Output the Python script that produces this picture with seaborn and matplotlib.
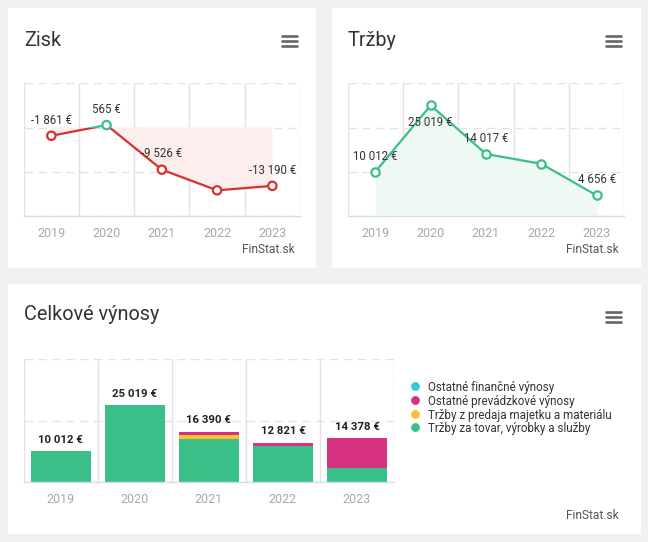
import numpy as np
import pandas as pd
import matplotlib
matplotlib.use("Agg")
import matplotlib.pyplot as plt
from matplotlib.patches import Rectangle
from matplotlib.lines import Line2D
import seaborn as sns

# ---------------- data ----------------
years = ["2019", "2020", "2021", "2022", "2023"]
zisk = [-1861, 565, -9526, -14200, -13190]
zisk_labels = ["-1 861 €", "565 €", "-9 526 €", None, "-13 190 €"]
trzby = [10012, 25019, 14017, 11800, 4656]
trzby_labels = ["10 012 €", "25 019 €", "14 017 €", None, "4 656 €"]

vyn_tovar = [10012, 25019, 14017, 11800, 4656]      # Tržby za tovar, výrobky a služby
vyn_majetok = [0, 0, 1350, 0, 0]                    # Tržby z predaja majetku a materiálu
vyn_prevadz = [0, 0, 1023, 1021, 9722]              # Ostatné prevádzkové výnosy
vyn_financ = [0, 0, 0, 0, 0]                        # Ostatné finančné výnosy
vyn_total_labels = ["10 012 €", "25 019 €", "16 390 €", "12 821 €", "14 378 €"]

series_names = ["Ostatné finančné výnosy", "Ostatné prevádzkové výnosy",
                "Tržby z predaja majetku a materiálu", "Tržby za tovar, výrobky a služby"]

# ---------------- style ----------------
sns.set_theme(style="white")
plt.rcParams["font.family"] = ["Roboto", "DejaVu Sans"]

BG = "#f2f1ef"
RED = "#d6302f"
GREEN = "#3bbf88"
PINK = "#d73282"
YELLOW = "#fbc12e"
CYAN = "#36c8da"
GRID = "#e3e3e3"
TICK = "#a8a8a8"
TXT = "#333333"

W, H = 648, 542
fig = plt.figure(figsize=(W / 100, H / 100), dpi=100, facecolor=BG)


def fx(x):
    return x / W


def fy(y):
    return 1 - y / H


def add_axes_px(x0, y0, x1, y1, **kw):
    return fig.add_axes([fx(x0), fy(y1), fx(x1) - fx(x0), fy(y0) - fy(y1)], **kw)


# panels
for (x0, y0, x1, y1) in [(8, 8, 316, 268), (332, 8, 641, 268), (8, 284, 641, 533.5)]:
    fig.add_artist(Rectangle((fx(x0), fy(y1)), fx(x1) - fx(x0), fy(y0) - fy(y1),
                             transform=fig.transFigure, facecolor="white",
                             edgecolor="none", zorder=0))

fig.text(fx(24), fy(45.5), "Zisk", fontsize=14.3, color=TXT, va="baseline")
fig.text(fx(348), fy(45.5), "Tržby", fontsize=14.3, color=TXT, va="baseline")
fig.text(fx(24), fy(320.5), "Celkové výnosy", fontsize=14.3, color=TXT, va="baseline")


def hamburger(xa, xb, ys):
    for yy in ys:
        fig.add_artist(Line2D([fx(xa), fx(xb)], [fy(yy), fy(yy)], transform=fig.transFigure,
                              color="#666666", lw=1.9, solid_capstyle="round"))


hamburger(282, 296.5, [36.2, 41.2, 46.3])
hamburger(606, 620.5, [36.2, 41.2, 46.3])
hamburger(605.5, 620.5, [312.2, 317.2, 322.2])

for (xr, yb) in [(294.5, 253), (618.5, 253), (618.5, 519.3)]:
    fig.text(fx(xr), fy(yb), "FinStat.sk", fontsize=8.6, color="#555555", ha="right",
             va="baseline")

pos = np.arange(len(years))


def style_axes(ax, yticks, ylim):
    ax.set_xlim(-0.5, len(years) - 0.5)
    ax.set_ylim(*ylim)
    ax.set_yticks(yticks)
    ax.set_yticklabels([])
    ax.set_xticks(pos)
    ax.set_xticklabels(years)
    ax.set_xticks(np.arange(len(years) + 1) - 0.5, minor=True)
    ax.tick_params(axis="x", which="both", length=0, pad=8, labelsize=9, labelcolor=TICK)
    ax.tick_params(axis="y", length=0)
    ax.grid(False)
    ax.yaxis.grid(True, color=GRID, linestyle=(0, (6, 4)), lw=1)
    ax.xaxis.grid(True, which="minor", color=GRID, linestyle="-", lw=1)
    for s in ["top", "right", "left"]:
        ax.spines[s].set_visible(False)
    ax.spines["bottom"].set_color("#dcdcdc")
    ax.spines["bottom"].set_linewidth(1)
    ax.set_xlabel("")
    ax.set_ylabel("")
    ax.set_facecolor("none")
    ax.set_axisbelow(True)


# ---------------- Zisk ----------------
ax1 = add_axes_px(23.7, 83.3, 300, 216)
style_axes(ax1, [-20000, -10000, 0, 10000], (-20000, 10000))
zy = np.array(zisk)
ax1.fill_between(pos, zy, 0, where=zy <= 0, interpolate=True, color="#fdeeee", lw=0, zorder=1)
df_z = pd.DataFrame({"x": pos, "y": zisk})
sns.lineplot(data=df_z, x="x", y="y", ax=ax1, color=RED, lw=1.6, zorder=3)
ln_red = ax1.lines[-1]
ln_red.set_clip_path(Rectangle((-1, -30000), 7, 30000, transform=ax1.transData))
sns.lineplot(data=df_z, x="x", y="y", ax=ax1, color=GREEN, lw=1.6, zorder=3)
ln_green = ax1.lines[-1]
ln_green.set_clip_path(Rectangle((-1, 0), 7, 30000, transform=ax1.transData))
df_z["sign"] = np.where(zy >= 0, "pos", "neg")
sns.scatterplot(data=df_z, x="x", y="y", hue="sign", palette={"pos": GREEN, "neg": RED},
                ax=ax1, s=36, facecolor="white", linewidth=1.6, legend=False, zorder=4)
coll = ax1.collections[-1]
coll.set_facecolor("white")
coll.set_edgecolor([GREEN if v >= 0 else RED for v in zisk])
for i, (v, lab) in enumerate(zip(zisk, zisk_labels)):
    if lab:
        ax1.annotate(lab, (i, v), xytext=(0, 11.3), textcoords="offset points", ha="center",
                     va="center", fontsize=8.3, color=TXT, zorder=5)
ax1.set_xlabel("")
ax1.set_ylabel("")

# ---------------- Tržby ----------------
ax2 = add_axes_px(347.7, 83.3, 624.3, 216)
style_axes(ax2, [0, 10000, 20000, 30000], (0, 30000))
ax2.fill_between(pos, trzby, 0, color="#eef9f3", lw=0, zorder=1)
df_t = pd.DataFrame({"x": pos, "y": trzby})
sns.lineplot(data=df_t, x="x", y="y", ax=ax2, color=GREEN, lw=1.6, zorder=3)
sns.scatterplot(data=df_t, x="x", y="y", ax=ax2, s=36, color="white", edgecolor=GREEN,
                linewidth=1.6, legend=False, zorder=4)
for i, (v, lab) in enumerate(zip(trzby, trzby_labels)):
    if lab:
        off = -12.7 if v == max(trzby) else 11.3
        ax2.annotate(lab, (i, v), xytext=(0, off), textcoords="offset points", ha="center",
                     va="center", fontsize=8.3, color=TXT, zorder=5)
ax2.set_xlabel("")
ax2.set_ylabel("")

# ---------------- Celkové výnosy ----------------
ax3 = add_axes_px(23.7, 359.3, 394, 482)
style_axes(ax3, [0, 20000, 40000], (0, 40000))

t = np.array(vyn_tovar, float)
m = np.array(vyn_majetok, float)
p = np.array(vyn_prevadz, float)
f = np.array(vyn_financ, float)
layers = [(t + m + p + f, CYAN), (t + m + p, PINK), (t + m, YELLOW), (t, GREEN)]
for vals, col in layers:
    dfb = pd.DataFrame({"year": years, "v": vals})
    sns.barplot(data=dfb, x="year", y="v", ax=ax3, color=col, width=0.814, saturation=1,
                edgecolor="none", linewidth=0, zorder=2)
for i, lab in enumerate(vyn_total_labels):
    tot = (t + m + p + f)[i]
    ax3.annotate(lab, (i, tot), xytext=(0, 8.2), textcoords="offset points", ha="center",
                 va="center", fontsize=8.2, fontweight="bold", color="#222222", zorder=5)
ax3.set_xlim(-0.5, len(years) - 0.5)
ax3.set_xlabel("")
ax3.set_ylabel("")

# legend
leg_cols = [CYAN, PINK, YELLOW, GREEN]
for k, (name, col) in enumerate(zip(series_names, leg_cols)):
    yy = 385.7 + k * 13.9
    fig.add_artist(Line2D([fx(415.3)], [fy(yy)], transform=fig.transFigure, marker="o",
                          markersize=5.3, color=col, lw=0))
    fig.text(fx(427.5), fy(yy), name, fontsize=8.4, color=TXT, va="center_baseline")

fig.savefig("out.png", dpi=100, facecolor=BG)
